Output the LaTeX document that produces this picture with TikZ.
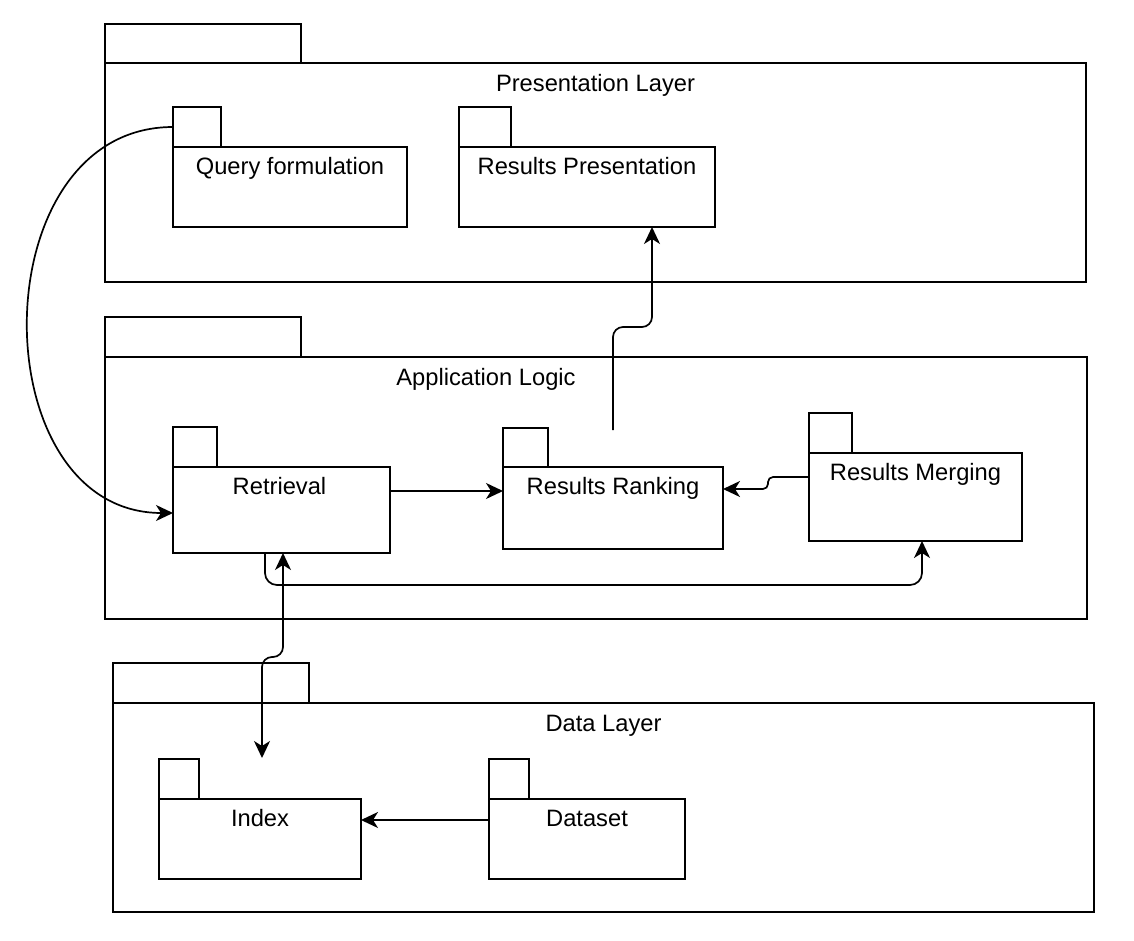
\documentclass[tikz,border=0pt]{standalone}
\usepackage{fontspec}
\setmainfont{Liberation Sans}
\usetikzlibrary{arrows.meta,calc}
\begin{document}
\begin{tikzpicture}[x=1pt,y=-1pt,
  pkg/.style={draw=black,line width=1.7pt,rectangle,inner sep=0pt,outer sep=0pt,fill=white},
  lbl/.style={anchor=base,inner sep=0pt,font=\fontsize{23.7}{28}\selectfont},
  arr/.style={draw=black,line width=1.7pt,-{Stealth[length=17pt,width=16pt,inset=5pt]}},
  dblarr/.style={draw=black,line width=1.7pt,{Stealth[length=17pt,width=16pt,inset=5pt]}-{Stealth[length=17pt,width=16pt,inset=5pt]}}
]
\path[use as bounding box,fill=white] (0,0) rectangle (1134,941);

% ---------- layers ----------
\node[pkg,anchor=north west,minimum width=981pt,minimum height=219pt] (pl) at (105,63) {};
\node[pkg,anchor=south west,minimum width=196pt,minimum height=39pt] (pltab) at (pl.north west) {};
\node[lbl] (plt) at ($(pl.north)+(0,28.5)$) {Presentation Layer};

\node[pkg,anchor=north west,minimum width=982pt,minimum height=262pt] (al) at (105,357) {};
\node[pkg,anchor=south west,minimum width=196pt,minimum height=40pt] (altab) at (al.north west) {};
\node[lbl] (alt) at ($(al.north west)+(381,28.5)$) {Application Logic};

\node[pkg,anchor=north west,minimum width=981pt,minimum height=209pt] (dl) at (113,703) {};
\node[pkg,anchor=south west,minimum width=196pt,minimum height=40pt] (dltab) at (dl.north west) {};
\node[lbl] (dlt) at ($(dl.north)+(0,28.5)$) {Data Layer};

% ---------- packages ----------
\node[pkg,anchor=north west,minimum width=234pt,minimum height=80pt] (qf) at (173,147) {};
\node[pkg,anchor=south west,minimum width=48pt,minimum height=40pt] (qftab) at (qf.north west) {};
\node[lbl] (qft) at ($(qf.north)+(0,27.5)$) {Query formulation};

\node[pkg,anchor=north west,minimum width=256pt,minimum height=80pt] (rp) at (459,147) {};
\node[pkg,anchor=south west,minimum width=52pt,minimum height=40pt] (rptab) at (rp.north west) {};
\node[lbl] (rpt) at ($(rp.north)+(0,27.5)$) {Results Presentation};

\node[pkg,anchor=north west,minimum width=217pt,minimum height=86pt] (ret) at (173,467) {};
\node[pkg,anchor=south west,minimum width=44pt,minimum height=40pt] (rettab) at (ret.north west) {};
\node[lbl] (rett) at ($(ret.north)+(-2,27.5)$) {Retrieval};

\node[pkg,anchor=north west,minimum width=220pt,minimum height=82pt] (rank) at (503,467) {};
\node[pkg,anchor=south west,minimum width=45pt,minimum height=39pt] (ranktab) at (rank.north west) {};
\node[lbl] (rankt) at ($(rank.north)+(0,27.5)$) {Results Ranking};

\node[pkg,anchor=north west,minimum width=213pt,minimum height=88pt] (mrg) at (809,453) {};
\node[pkg,anchor=south west,minimum width=43pt,minimum height=40pt] (mrgtab) at (mrg.north west) {};
\node[lbl] (mrgt) at ($(mrg.north)+(0,27.5)$) {Results Merging};

\node[pkg,anchor=north west,minimum width=202pt,minimum height=80pt] (idx) at (159,799) {};
\node[pkg,anchor=south west,minimum width=40pt,minimum height=40pt] (idxtab) at (idx.north west) {};
\node[lbl] (idxt) at ($(idx.north)+(0,27.5)$) {Index};

\node[pkg,anchor=north west,minimum width=196pt,minimum height=80pt] (ds) at (489,799) {};
\node[pkg,anchor=south west,minimum width=40pt,minimum height=40pt] (dstab) at (ds.north west) {};
\node[lbl] (dst) at ($(ds.north)+(0,27.5)$) {Dataset};

% ---------- connectors ----------
\draw[arr] (qftab.west) .. controls (-20,127) and (-20,513) .. ($(ret.north west)+(0,46)$);
\draw[arr] ($(ret.north east)+(0,24)$) -- ($(rank.north west)+(0,24)$);
\draw[arr,rounded corners=10pt] ($(rank.north)+(0,-37)$) -- ++(0,-103) -| ($(rp.south east)+(-63,0)$);
\draw[arr,rounded corners=5pt] ($(mrg.north west)+(0,24)$) -- ++(-41,0) -- ++(0,12) -- ($(rank.north east)+(0,22)$);
\draw[arr,rounded corners=12pt] ($(ret.south west)+(92,0)$) -- ++(0,32) -| ($(mrg.south west)+(113,0)$);
\draw[dblarr,rounded corners=10pt] ($(ret.south west)+(110,0)$) -- ++(0,104) -- ++(-21,0) -- ($(idx.north west)+(103,-41)$);
\draw[arr] ($(ds.north west)+(0,21)$) -- ($(idx.north east)+(0,21)$);
\end{tikzpicture}
\end{document}
